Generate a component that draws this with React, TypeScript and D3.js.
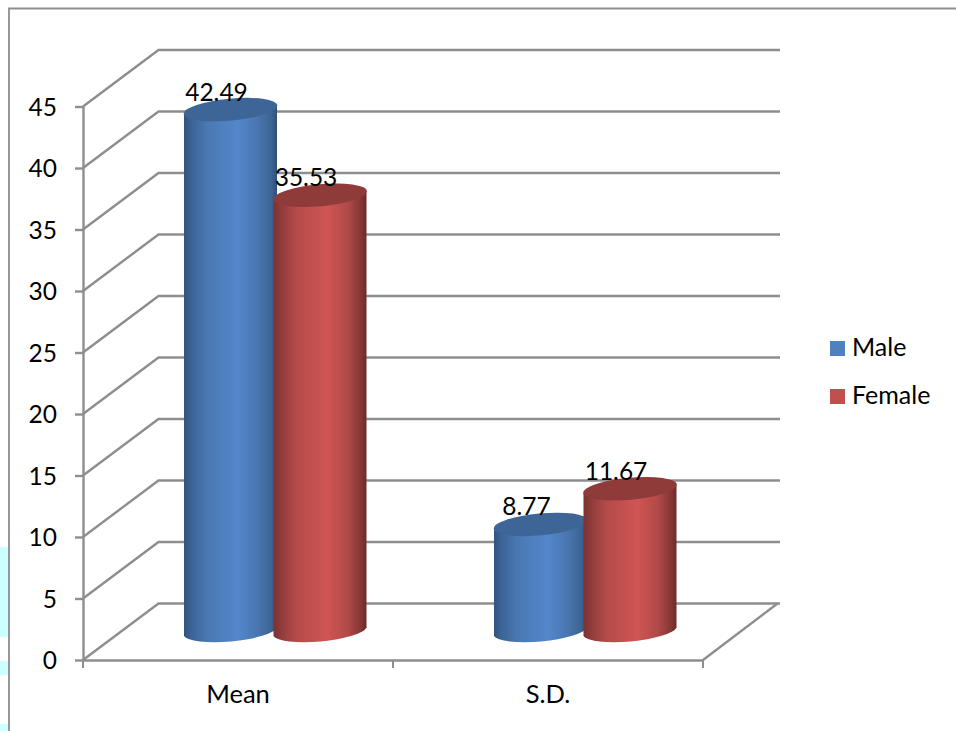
import { useEffect, useRef } from "react";
import * as d3 from "d3";

const categories = ["Mean", "S.D."];
const seriesNames = ["Male", "Female"];
const maleValues = [42.49, 8.77];
const femaleValues = [35.53, 11.67];
const yTicks = [0, 5, 10, 15, 20, 25, 30, 35, 40, 45];

const seriesValues = [maleValues, femaleValues];
const font = "Lato, Carlito, sans-serif";
const gridColor = "#8e8e8e";

export default function App() {
  const svgRef = useRef<SVGSVGElement>(null);

  useEffect(() => {
    if (!svgRef.current) return;

    const svg = d3.select(svgRef.current);
    const width = 956;
    const height = 731;
    svg.selectAll("*").remove();
    svg.attr("width", width).attr("height", height);

    // Scales
    const x0 = d3.scaleBand().domain(categories).range([83, 703]);
    const x1 = d3.scaleBand().domain(seriesNames).range([-89.5, 89.5]);
    const y = d3.scaleLinear().domain([0, 45]).range([660, 106.5]);

    // 3D wall offset
    const depthX = 75.5;
    const depthY = -56.5;

    // Gradients
    const defs = svg.append("defs");
    const addGradient = (id: string, stops: [number, string][]) => {
      const g = defs.append("linearGradient").attr("id", id);
      stops.forEach(([o, c]) =>
        g.append("stop").attr("offset", `${o}%`).attr("stop-color", c)
      );
    };
    addGradient("body-Male", [
      [0, "#2f547f"],
      [8, "#3b6496"],
      [25, "#4a78b2"],
      [58, "#5387cb"],
      [80, "#4875ad"],
      [94, "#3c6493"],
      [100, "#2f5078"],
    ]);
    addGradient("body-Female", [
      [0, "#7a3231"],
      [8, "#8f3c3a"],
      [25, "#b54c4a"],
      [58, "#cf5553"],
      [80, "#b04a48"],
      [94, "#843635"],
      [100, "#6c2a29"],
    ]);
    const topColor: Record<string, string> = {
      Male: "#3d6696",
      Female: "#8f3b3a",
    };
    const legendColor: Record<string, string> = {
      Male: "#4f81bd",
      Female: "#c0504d",
    };

    // Stray page background at the left edge
    [
      [547, 637],
      [661, 675],
      [724, 731],
    ].forEach(([a, b]) => {
      svg
        .append("rect")
        .attr("x", 0)
        .attr("y", a)
        .attr("width", 8)
        .attr("height", b - a)
        .attr("fill", "#ccffff");
    });

    // Chart frame
    svg
      .append("path")
      .attr("d", `M${width},8.5H9V${height}`)
      .attr("fill", "none")
      .attr("stroke", gridColor)
      .attr("stroke-width", 1.8);

    // Walls
    const grid = svg
      .append("g")
      .attr("fill", "none")
      .attr("stroke", gridColor)
      .attr("stroke-width", 2.4);
    yTicks.forEach((t) => {
      const line = d3.line();
      grid.append("path").attr(
        "d",
        line([
          [83, y(t)],
          [83 + depthX, y(t) + depthY],
          [780, y(t) + depthY],
        ])
      );
    });
    const floor = d3.line()([
      [703, y(0)],
      [703 + depthX - 1, y(0) + depthY],
    ]);
    grid.append("path").attr("d", floor);

    // Y axis
    const yAxis = svg
      .append("g")
      .attr("transform", "translate(83,0)")
      .call(d3.axisLeft(y).tickValues(yTicks).tickSize(8).tickSizeOuter(0).tickPadding(18));
    yAxis.selectAll(".domain, .tick line").attr("stroke", gridColor).attr("stroke-width", 2.4);
    yAxis
      .selectAll("text")
      .attr("fill", "#000")
      .attr("dy", "0.36em")
      .style("font-family", font)
      .style("font-size", "24.5px");

    // X axis
    const xAxis = svg
      .append("g")
      .attr("transform", `translate(0,${y(0)})`)
      .call(d3.axisBottom(x0).tickSize(0).tickPadding(24));
    xAxis.select(".domain").attr("stroke", gridColor).attr("stroke-width", 2.4);
    xAxis
      .selectAll("text")
      .attr("fill", "#000")
      .attr("dy", "0.76em")
      .style("font-family", font)
      .style("font-size", "25.5px");
    [83, 393, 703].forEach((px) => {
      xAxis
        .append("line")
        .attr("x1", px)
        .attr("x2", px)
        .attr("y1", 0)
        .attr("y2", 8)
        .attr("stroke", gridColor)
        .attr("stroke-width", 2);
    });

    // Cylinders
    const rx = 46.5;
    const ry = 11;
    const tiltY = 4.2;
    const tiltDeg = -5.2;
    const barsLayer = svg.append("g");
    const labelsLayer = svg.append("g");
    categories.forEach((cat, i) => {
      seriesNames.forEach((name, s) => {
        const value = seriesValues[s][i];
        const cx =
          x0(cat)! + x0.bandwidth() / 2 + depthX / 2 + x1(name)! + x1.bandwidth() / 2 - 0.5;
        const base = y(0) + depthY / 2;
        const top = base - (y(0) - y(value)) + 0.5;
        const left = cx - rx;
        const right = cx + rx;
        barsLayer
          .append("path")
          .attr(
            "d",
            `M${left},${top + tiltY}L${left},${base + tiltY}` +
              `A${rx + 0.5},${ry} ${tiltDeg} 0 0 ${right},${base - tiltY}` +
              `L${right},${top - tiltY}Z`
          )
          .attr("fill", `url(#body-${name})`);
        barsLayer
          .append("ellipse")
          .attr("cx", 0)
          .attr("cy", 0)
          .attr("rx", rx + 0.5)
          .attr("ry", ry)
          .attr("transform", `translate(${cx},${top}) rotate(${tiltDeg})`)
          .attr("fill", topColor[name]);
        labelsLayer
          .append("text")
          .attr("x", cx - 14)
          .attr("y", top - 9)
          .attr("text-anchor", "middle")
          .attr("fill", "#000")
          .style("font-family", font)
          .style("font-size", "24.5px")
          .text(value.toFixed(2));
      });
    });

    // Legend
    const legendY = d3.scalePoint().domain(seriesNames).range([341, 389]);
    seriesNames.forEach((name) => {
      svg
        .append("rect")
        .attr("x", 830)
        .attr("y", legendY(name)!)
        .attr("width", 15)
        .attr("height", 15)
        .attr("fill", legendColor[name]);
      svg
        .append("text")
        .attr("x", 852)
        .attr("y", legendY(name)! + 15)
        .attr("fill", "#000")
        .style("font-family", font)
        .style("font-size", "25px")
        .text(name);
    });
  }, []);

  return <svg ref={svgRef} style={{ position: "absolute", left: 0, top: 0, background: "#fff" }}></svg>;
}
